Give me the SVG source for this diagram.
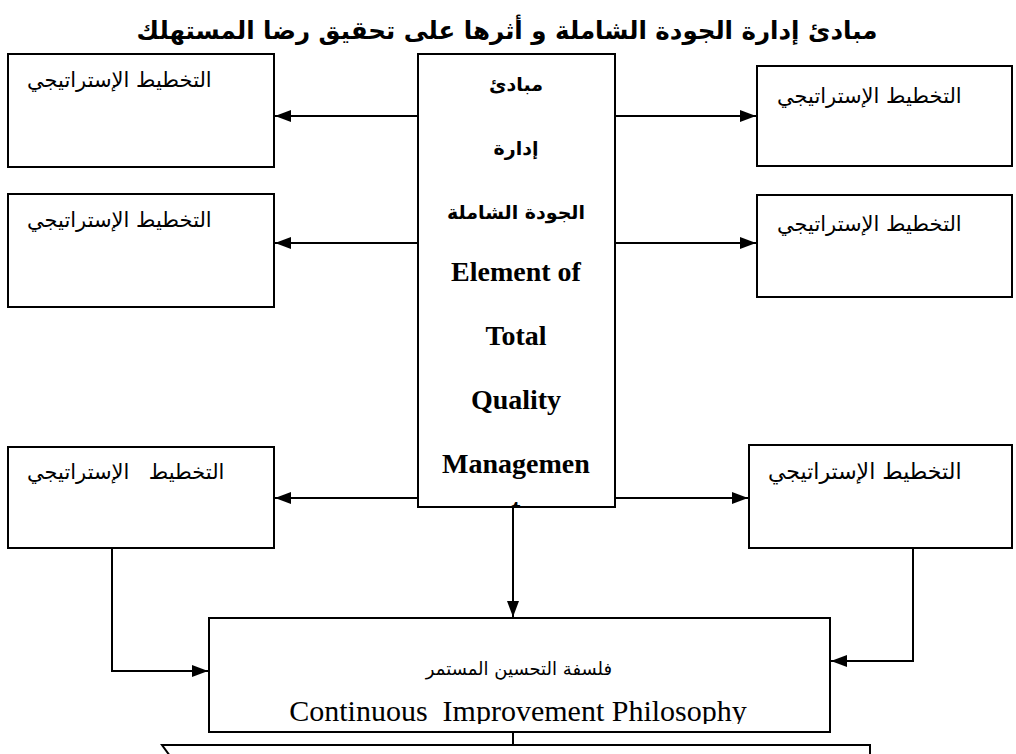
<svg xmlns="http://www.w3.org/2000/svg" width="1016" height="754" viewBox="0 0 1016 754">
  <defs>
    <marker id="arrow" viewBox="0 0 10 10" refX="10" refY="5" markerWidth="8" markerHeight="6" markerUnits="strokeWidth" orient="auto" preserveAspectRatio="none">
      <path d="M0,0 L10,5 L0,10 Z" fill="#000"/>
    </marker>
    <clipPath id="centerClip"><rect x="418" y="54" width="197" height="452"/></clipPath>
    <clipPath id="bottomClip"><rect x="209" y="618" width="621" height="106"/></clipPath>
  </defs>
  <style>
    .box { fill: #fff; stroke: #000; stroke-width: 2; }
    .line { fill: none; stroke: #000; stroke-width: 2; }
    .arr { fill: none; stroke: #000; stroke-width: 2; marker-end: url(#arrow); }
    .ar { font-family: "DejaVu Sans", "Liberation Sans", sans-serif; font-size: 21px; fill: #000; }
    .title { font-family: "DejaVu Sans", "Liberation Sans", sans-serif; font-size: 24.5px; font-weight: bold; fill: #000; }
    .cen-ar { font-family: "DejaVu Sans", "Liberation Serif", sans-serif; font-size: 19px; font-weight: bold; fill: #000; text-anchor: middle; }
    .cen-en { font-family: "Liberation Serif", serif; font-size: 28px; font-weight: bold; fill: #000; text-anchor: middle; }
    .bot-ar { font-family: "DejaVu Sans", "Liberation Serif", sans-serif; font-size: 18px; fill: #000; text-anchor: middle; }
    .bot-en { font-family: "Liberation Serif", serif; font-size: 30px; fill: #000; text-anchor: middle; }
  </style>

  <text class="title" x="507" y="39" text-anchor="middle" direction="rtl">مبادئ إدارة الجودة الشاملة و أثرها على تحقيق رضا المستهلك</text>

  <!-- connectors -->
  <g id="connectors">
    <line class="arr" x1="418" y1="116" x2="275" y2="116"/>
    <line class="arr" x1="418" y1="243" x2="275" y2="243"/>
    <line class="arr" x1="418" y1="498" x2="275" y2="498"/>
    <line class="arr" x1="615" y1="116" x2="756" y2="116"/>
    <line class="arr" x1="615" y1="243" x2="756" y2="243"/>
    <line class="arr" x1="615" y1="498" x2="748" y2="498"/>
    <line class="arr" x1="513" y1="507" x2="513" y2="617"/>
    <polyline class="arr" points="112,548 112,671 208,671"/>
    <polyline class="arr" points="913,548 913,661 831,661"/>
    <line class="line" x1="513" y1="732" x2="513" y2="745"/>
    <polyline class="line" points="170,756 162,745 870,745 870,756"/>
  </g>

  <g id="node-left-1">
    <rect class="box" x="8" y="54" width="266" height="113"/>
    <text class="ar" x="27" y="87" direction="rtl" text-anchor="end">التخطيط الإستراتيجي</text>
  </g>
  <g id="node-left-2">
    <rect class="box" x="8" y="194" width="266" height="113"/>
    <text class="ar" x="27" y="227" direction="rtl" text-anchor="end">التخطيط الإستراتيجي</text>
  </g>
  <g id="node-left-3">
    <rect class="box" x="8" y="447" width="266" height="101"/>
    <text class="ar" x="27" y="479" direction="rtl" text-anchor="end" word-spacing="3" xml:space="preserve">التخطيط  الإستراتيجي</text>
  </g>

  <g id="node-right-1">
    <rect class="box" x="757" y="66" width="255" height="100"/>
    <text class="ar" x="777" y="103" direction="rtl" text-anchor="end">التخطيط الإستراتيجي</text>
  </g>
  <g id="node-right-2">
    <rect class="box" x="757" y="195" width="255" height="102"/>
    <text class="ar" x="777" y="231" direction="rtl" text-anchor="end">التخطيط الإستراتيجي</text>
  </g>
  <g id="node-right-3">
    <rect class="box" x="749" y="445" width="263" height="103"/>
    <text class="ar" x="768" y="479" direction="rtl" text-anchor="end" style="font-size:22px">التخطيط الإستراتيجي</text>
  </g>

  <g id="node-center">
    <rect class="box" x="418" y="54" width="197" height="453"/>
    <g clip-path="url(#centerClip)">
      <text class="cen-ar" x="516" y="91" direction="rtl">مبادئ</text>
      <text class="cen-ar" x="516" y="155" direction="rtl">إدارة</text>
      <text class="cen-ar" x="516" y="219" direction="rtl">الجودة الشاملة</text>
      <text class="cen-en" x="516" y="281">Element of</text>
      <text class="cen-en" x="516" y="345">Total</text>
      <text class="cen-en" x="516" y="409">Quality</text>
      <text class="cen-en" x="516" y="473">Managemen</text>
      <text class="cen-en" x="516" y="518">t</text>
    </g>
  </g>

  <g id="node-bottom">
    <rect class="box" x="209" y="618" width="621" height="114"/>
    <text class="bot-ar" x="519" y="675" direction="rtl">فلسفة التحسين المستمر</text>
    <g clip-path="url(#bottomClip)">
      <text class="bot-en" x="518" y="721" xml:space="preserve">Continuous  Improvement Philosophy</text>
    </g>
  </g>
</svg>
